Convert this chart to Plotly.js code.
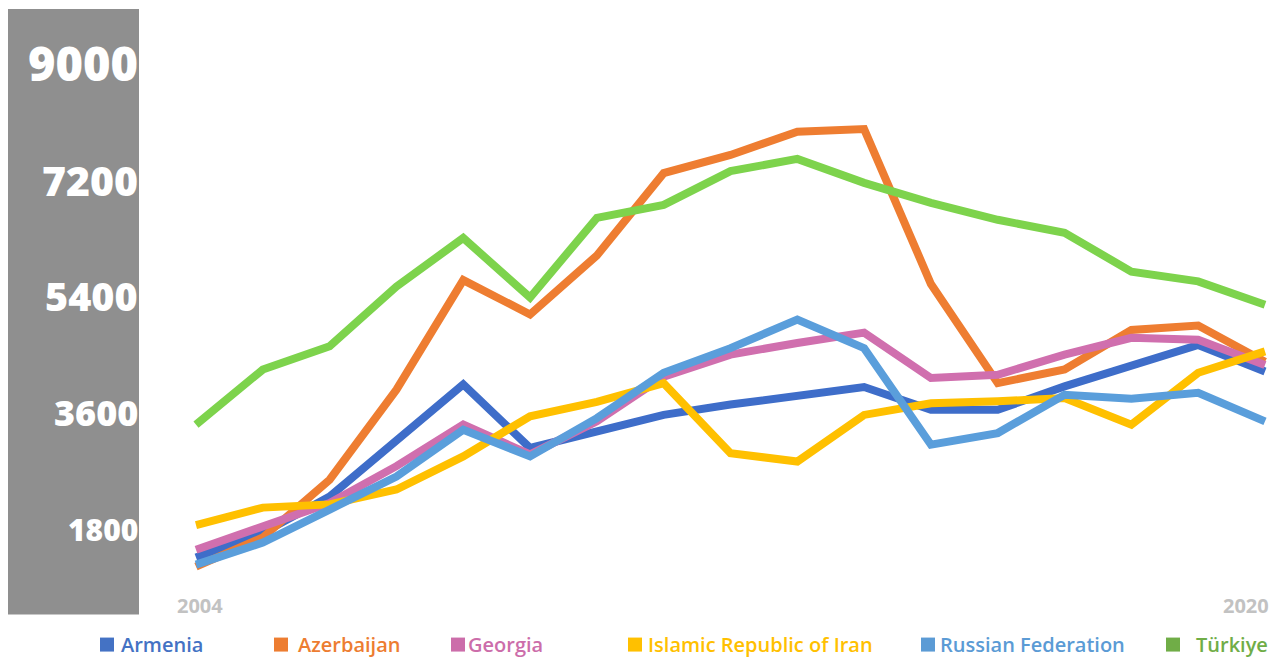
<!DOCTYPE html>
<html>
<head>
<meta charset="utf-8">
<script src="https://cdn.plot.ly/plotly-3.0.1.min.js"></script>
<style>html,body{margin:0;padding:0;background:#fff;}#chart{width:1272px;height:659px;}</style>
</head>
<body>
<div id="chart"></div>
<script>
const years = [2004,2005,2006,2007,2008,2009,2010,2011,2012,2013,2014,2015,2016,2017,2018,2019,2020];
const seriesNames = ["Armenia","Azerbaijan","Georgia","Islamic Republic of Iran","Russian Federation","Türkiye"];
const armenia    = [1370,1750,2310,3160,4040,3060,3310,3570,3730,3870,4000,3650,3650,4010,4340,4650,4240];
const azerbaijan = [1230,1680,2570,3960,5650,5120,6030,7300,7580,7940,7980,5590,4060,4270,4880,4950,4390];
const georgia    = [1490,1850,2210,2780,3420,2960,3470,4160,4500,4680,4840,4140,4190,4500,4760,4730,4340];
const iran       = [1870,2140,2190,2420,2930,3550,3770,4060,2980,2850,3570,3750,3780,3830,3420,4220,4550];
const russia     = [1260,1600,2110,2620,3340,2930,3520,4220,4600,5040,4600,3110,3290,3880,3820,3910,3470];
const turkiye    = [3420,4270,4630,5550,6300,5380,6610,6810,7330,7520,7150,6840,6580,6380,5780,5630,5270];
const yTickVals  = [9000,7200,5400,3600,1800];
const yTickText  = ["9000","7200","5400","3600","1800"];
const xTickText  = ["2004","2020"];

const seriesValues = [armenia, azerbaijan, georgia, iran, russia, turkiye];
const lineColors   = ["#3E6DC9","#EE7D31","#D06FAE","#FFC000","#5A9EDB","#7DD34C"];
const legendColors = ["#4472C4","#ED7D31","#CC6DAA","#FFC000","#5B9BD5","#70AD47"];
const tickSizes    = [47,41,39.5,36,30];

// pixel geometry
const W = 1272, H = 659;
const plotL = 192, plotR = 1269;
const plotT = 37.1, plotB = 588.4;
const pxX = p => (p - plotL) / (plotR - plotL);
const pxY = p => (plotB - p) / (plotB - plotT);

const traces = seriesNames.map((n, i) => ({
  type: 'scatter', mode: 'lines', name: n,
  x: years, y: seriesValues[i],
  line: {color: lineColors[i], width: 8, shape: 'linear'},
  showlegend: false, hoverinfo: 'x+y+name'
}));

const annotations = [];
const shapes = [];

// grey band behind y labels
shapes.push({type:'rect', xref:'paper', yref:'paper', x0:pxX(8), x1:pxX(139), y0:pxY(615), y1:pxY(9),
  fillcolor:'#8F8F8F', line:{width:0}, layer:'below'});

yTickVals.forEach((v, i) => {
  annotations.push({xref:'paper', yref:'y', x:pxX(140), y:v, xanchor:'right', yanchor:'middle',
    text:yTickText[i], showarrow:false,
    font:{family:'Open Sans', size:tickSizes[i], weight:800, color:'#FFFFFF'}});
});

annotations.push({xref:'paper', yref:'paper', x:pxX(200), y:pxY(606), xanchor:'center', yanchor:'middle',
  text:xTickText[0], showarrow:false, font:{family:'Open Sans', size:20, weight:700, color:'#C2C2C2'}});
annotations.push({xref:'paper', yref:'paper', x:pxX(1271), y:pxY(606), xanchor:'right', yanchor:'middle',
  text:xTickText[1], showarrow:false, font:{family:'Open Sans', size:20, weight:700, color:'#C2C2C2'}});

// legend
const legendSquareX = [100, 274, 451, 628, 921, 1166];
const legendTextX   = [119, 296, 466, 646, 938, 1194];
seriesNames.forEach((n, i) => {
  const sx = legendSquareX[i];
  shapes.push({type:'rect', xref:'paper', yref:'paper', x0:pxX(sx), x1:pxX(sx+14), y0:pxY(652), y1:pxY(638),
    fillcolor:legendColors[i], line:{width:0}});
  annotations.push({xref:'paper', yref:'paper', x:pxX(legendTextX[i]), y:pxY(645), xanchor:'left', yanchor:'middle',
    text:n, showarrow:false, font:{family:'Open Sans', size:20, weight:600, color:legendColors[i]}});
});

const layout = {
  width: W, height: H,
  margin: {l: plotL, r: W - plotR, t: plotT, b: H - plotB, pad: 0},
  paper_bgcolor: '#FFFFFF', plot_bgcolor: '#FFFFFF',
  xaxis: {range: [2003.94, 2020.06], showgrid:false, zeroline:false, showline:false, showticklabels:false, ticks:''},
  yaxis: {range: [900, 9400], showgrid:false, zeroline:false, showline:false, showticklabels:false, ticks:''},
  showlegend: false,
  shapes: shapes,
  annotations: annotations
};

Plotly.newPlot('chart', traces, layout, {staticPlot: true, displayModeBar: false});
</script>
</body>
</html>
